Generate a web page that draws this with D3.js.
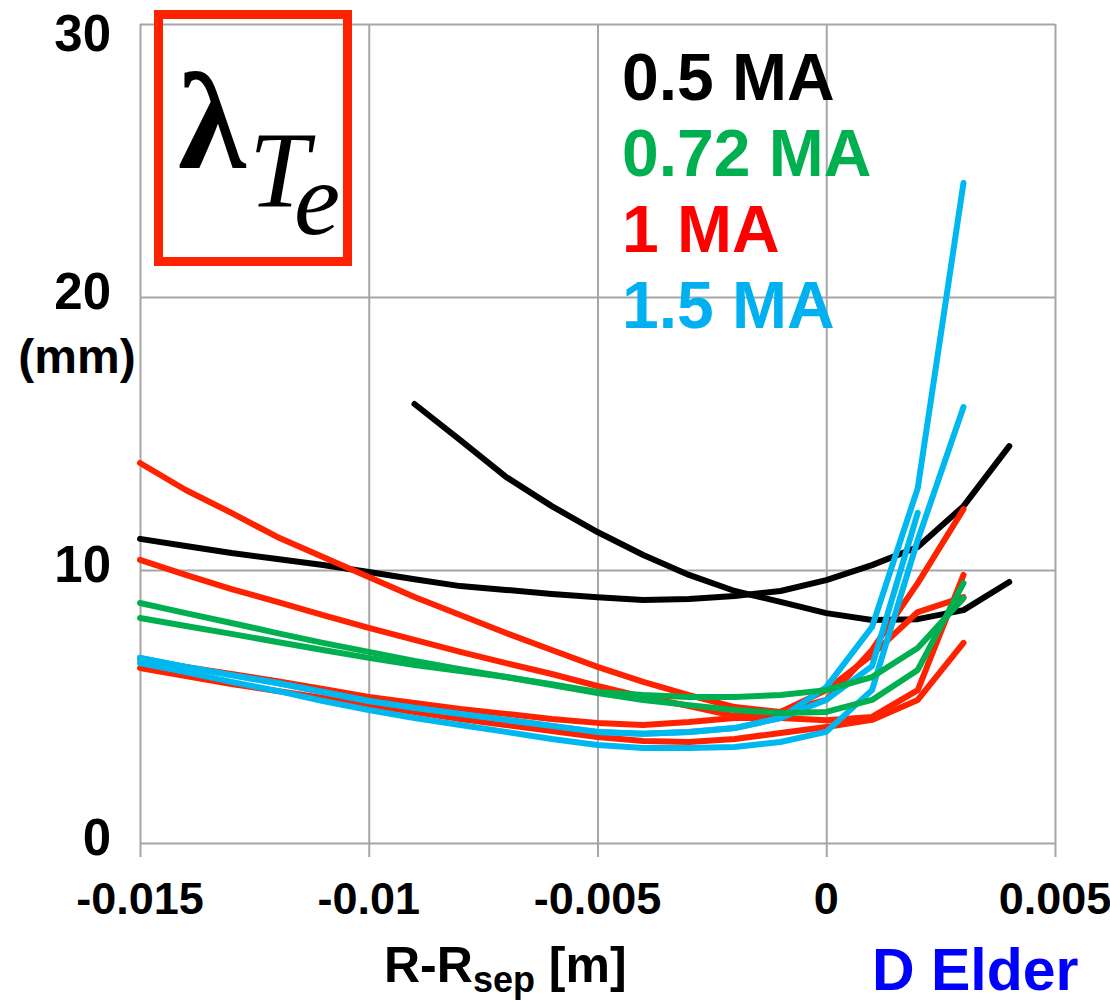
<!DOCTYPE html>
<html>
<head>
<meta charset="utf-8">
<title>lambda Te vs R-Rsep</title>
<script src="https://cdn.jsdelivr.net/npm/d3@7"></script>
<style>
  body { margin: 0; background: #fff; }
  svg { display: block; }
  .grid line { stroke: #a6a6a6; stroke-width: 2; }
  .grid path { display: none; }
</style>
</head>
<body>
<script>
// ---- data ----
const xTicks = [-0.015, -0.01, -0.005, 0, 0.005];
const xTickLabels = ["-0.015", "-0.01", "-0.005", "0", "0.005"];
const yTicks = [0, 10, 20, 30];

// R - Rsep sample positions [m]
const rA = [-0.015, -0.014, -0.013, -0.012, -0.011, -0.010, -0.009, -0.008, -0.007, -0.006,
            -0.005, -0.004, -0.003, -0.002, -0.001, 0, 0.001, 0.002, 0.003];
const rB = [-0.015, -0.014, -0.013, -0.012, -0.011, -0.010, -0.009, -0.008, -0.007, -0.006,
            -0.005, -0.004, -0.003, -0.002, -0.001, 0, 0.001, 0.002, 0.003, 0.004];
const rC = [-0.009, -0.008, -0.007, -0.006, -0.005, -0.004, -0.003, -0.002, -0.001, 0,
            0.001, 0.002, 0.003, 0.004];
const rD = [-0.015, -0.014, -0.013, -0.012, -0.011, -0.010, -0.009, -0.008, -0.007, -0.006,
            -0.005, -0.004, -0.003, -0.002, -0.001, 0, 0.001, 0.002];

// lambda_Te [mm]
const ma05a = [11.14, 10.88, 10.62, 10.40, 10.18, 9.93, 9.66, 9.41, 9.27, 9.12,
               9.00, 8.90, 8.94, 9.05, 9.23, 9.63, 10.18, 10.84, 12.34, 14.54];
const ma05b = [16.08, 14.76, 13.41, 12.34, 11.39, 10.55, 9.82, 9.23, 8.83, 8.42,
               8.17, 8.20, 8.53, 9.56];
const ma072a = [8.79, 8.42, 8.06, 7.69, 7.33, 7.00, 6.67, 6.37, 6.08, 5.79,
                5.49, 5.24, 5.05, 4.87, 4.76, 4.80, 5.24, 6.34, 9.52];
const ma072b = [8.24, 7.95, 7.66, 7.36, 7.07, 6.78, 6.52, 6.30, 6.08, 5.82,
                5.53, 5.42, 5.35, 5.35, 5.42, 5.60, 6.08, 7.14, 8.97];
const ma1a = [13.92, 12.93, 12.09, 11.21, 10.48, 9.74, 9.01, 8.35, 7.69, 7.07,
              6.45, 5.90, 5.42, 4.98, 4.80, 5.24, 7.07, 9.52, 12.23];
const ma1b = [10.37, 9.82, 9.30, 8.83, 8.35, 7.88, 7.44, 7.00, 6.59, 6.19,
              5.75, 5.35, 5.02, 4.65, 4.80, 5.60, 6.89, 8.46, 9.01];
const ma1c = [6.74, 6.45, 6.19, 5.93, 5.64, 5.35, 5.13, 4.91, 4.73, 4.54,
              4.40, 4.32, 4.43, 4.58, 4.58, 4.50, 4.62, 5.60, 9.82];
const ma1d = [6.41, 6.12, 5.82, 5.57, 5.31, 5.05, 4.80, 4.54, 4.32, 4.10,
              3.88, 3.74, 3.70, 3.81, 4.03, 4.25, 4.51, 5.24, 7.33];
const ma15a = [6.78, 6.45, 6.15, 5.86, 5.53, 5.20, 4.95, 4.73, 4.51, 4.29,
               4.07, 4.00, 4.07, 4.21, 4.58, 5.71, 7.91, 13.00, 24.18];
const ma15b = [6.59, 6.26, 5.90, 5.57, 5.20, 4.87, 4.58, 4.32, 4.07, 3.81,
               3.59, 3.48, 3.48, 3.52, 3.70, 4.07, 5.60, 11.10, 15.97];
const ma15c = [6.78, 6.45, 6.15, 5.86, 5.53, 5.20, 4.95, 4.73, 4.51, 4.29,
               4.07, 4.00, 4.07, 4.21, 4.58, 5.24, 6.48, 12.09];

const legendLabels = ["0.5 MA", "0.72 MA", "1 MA", "1.5 MA"];
const legendColors = ["#000000", "#00b050", "#ff0000", "#00b0f0"];

const black = "#000000", green = "#00b050", red = "#ff2200", blue = "#00b8f0";

// draw order: black, red, blue, green
const series = [
    {x: rB, y: ma05a, c: black},
    {x: rC, y: ma05b, c: black},
    {x: rA, y: ma1a, c: red},
    {x: rA, y: ma1b, c: red},
    {x: rA, y: ma1c, c: red},
    {x: rA, y: ma1d, c: red},
    {x: rA, y: ma15a, c: blue},
    {x: rA, y: ma15b, c: blue},
    {x: rD, y: ma15c, c: blue},
    {x: rA, y: ma072a, c: green},
    {x: rA, y: ma072b, c: green}
];

// ---- layout ----
const W = 1110, H = 1001;
const plot = {left: 140, right: 1055, top: 24, bottom: 843};

const svg = d3.select("body").append("svg")
    .attr("width", W)
    .attr("height", H);

const xScale = d3.scaleLinear().domain([-0.015, 0.005]).range([plot.left, plot.right]);
const yScale = d3.scaleLinear().domain([0, 30]).range([plot.bottom, plot.top]);

// gridlines (vertical ones poke 14px below the axis as tick marks)
svg.append("g")
    .attr("class", "grid")
    .attr("transform", "translate(0," + plot.bottom + ")")
    .call(d3.axisBottom(xScale).tickValues(xTicks).tickSize(-(plot.bottom - plot.top) - 14).tickFormat(""))
    .selectAll(".tick line")
    .attr("transform", "translate(0,14)");
svg.append("g")
    .attr("class", "grid")
    .attr("transform", "translate(" + plot.left + ",0)")
    .call(d3.axisLeft(yScale).tickValues(yTicks).tickSize(-(plot.right - plot.left)).tickFormat(""));

// tick labels
svg.append("g").selectAll("text")
    .data(xTicks)
    .enter().append("text")
    .attr("x", d => xScale(d))
    .attr("y", 914)
    .attr("text-anchor", "middle")
    .style("font-family", "Liberation Sans, Arial, sans-serif")
    .style("font-weight", "bold")
    .style("font-size", "45px")
    .text((d, i) => xTickLabels[i]);

svg.append("g").selectAll("text")
    .data(yTicks)
    .enter().append("text")
    .attr("x", 111)
    .attr("y", d => Math.max(yScale(d) + 12, 51))
    .attr("text-anchor", "end")
    .style("font-family", "Liberation Sans, Arial, sans-serif")
    .style("font-weight", "bold")
    .style("font-size", "51px")
    .text(d => d);

svg.append("text")
    .attr("x", 77)
    .attr("y", 373)
    .attr("text-anchor", "middle")
    .style("font-family", "Liberation Sans, Arial, sans-serif")
    .style("font-weight", "bold")
    .style("font-size", "48px")
    .text("(mm)");

// x axis title with subscript
const xTitle = svg.append("text")
    .attr("x", 384)
    .attr("y", 982)
    .style("font-family", "Liberation Sans, Arial, sans-serif")
    .style("font-weight", "bold")
    .style("font-size", "50px");
xTitle.append("tspan").text("R-R");
xTitle.append("tspan").attr("dy", 10).style("font-size", "36px").text("sep");
xTitle.append("tspan").attr("dy", -10).text(" [m]");

svg.append("text")
    .attr("x", 872)
    .attr("y", 990)
    .style("font-family", "Liberation Sans, Arial, sans-serif")
    .style("font-weight", "bold")
    .style("font-size", "59px")
    .style("fill", "#0000ff")
    .text("D Elder");

// ---- lines ----
const line = d3.line()
    .x(d => xScale(d[0]))
    .y(d => yScale(d[1]));

svg.append("g").selectAll("path")
    .data(series)
    .enter().append("path")
    .attr("d", s => line(s.x.map((v, i) => [v, s.y[i]])))
    .attr("fill", "none")
    .attr("stroke", s => s.c)
    .attr("stroke-width", 6)
    .attr("stroke-linecap", "round")
    .attr("stroke-linejoin", "round");

// ---- legend ----
svg.append("g").selectAll("text")
    .data(legendLabels)
    .enter().append("text")
    .attr("x", 622)
    .attr("y", (d, i) => 100 + i * 76)
    .style("font-family", "Liberation Sans, Arial, sans-serif")
    .style("font-weight", "bold")
    .style("font-size", "66px")
    .style("fill", (d, i) => legendColors[i])
    .text(d => d);

// ---- lambda_Te box ----
svg.append("rect")
    .attr("x", 158.5)
    .attr("y", 14.5)
    .attr("width", 189)
    .attr("height", 247)
    .attr("fill", "none")
    .attr("stroke", "#ff2200")
    .attr("stroke-width", 9);

svg.append("text")
    .attr("x", 178)
    .attr("y", 168)
    .style("font-family", "Liberation Serif, Times New Roman, serif")
    .style("font-weight", "bold")
    .style("font-size", "138px")
    .text("λ");
svg.append("text")
    .attr("x", 249)
    .attr("y", 206)
    .style("font-family", "Liberation Serif, Times New Roman, serif")
    .style("font-style", "italic")
    .style("font-size", "108px")
    .text("T");
svg.append("text")
    .attr("x", 294)
    .attr("y", 234)
    .style("font-family", "Liberation Serif, Times New Roman, serif")
    .style("font-style", "italic")
    .style("font-size", "104px")
    .text("e");
</script>
</body>
</html>
